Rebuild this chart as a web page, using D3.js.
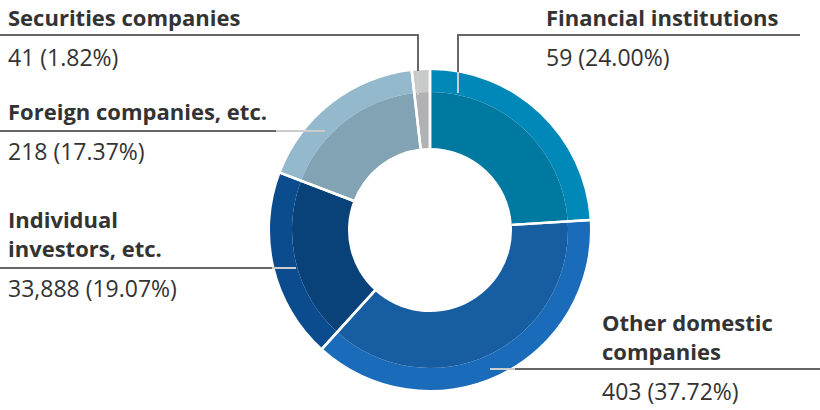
<!DOCTYPE html><html><head><meta charset="utf-8"><script src="https://cdn.jsdelivr.net/npm/d3@7"></script>
<style>body{margin:0;background:#fff}text{font-family:"Open Sans",sans-serif;fill:#333}</style></head><body><svg width="820" height="410"></svg>
<script>
const categories=["Financial institutions","Other domestic companies","Individual investors, etc.","Foreign companies, etc.","Securities companies"];
const shares=[24.00,37.72,19.07,17.37,1.82];
const counts=["59","403","33,888","218","41"];
const outerColors=["#0089b8","#1a6bb9","#0b4c8e","#94b9cc","#c9c9c9"];
const innerColors=["#0079a1","#175da1","#094179","#81a3b3","#b1b1b1"];
const svg=d3.select("svg");
const cx=430,cy=230;
const pie=d3.pie().sort(null).value(d=>d)(shares);
const g=svg.append("g").attr("transform",`translate(${cx},${cy})`);
const outerArc=d3.arc().innerRadius(138).outerRadius(160);
const innerArc=d3.arc().innerRadius(82).outerRadius(138);
g.selectAll(".o").data(pie).join("path").attr("d",outerArc).attr("fill",(d,i)=>outerColors[i]);
g.selectAll(".i").data(pie).join("path").attr("d",innerArc).attr("fill",(d,i)=>innerColors[i]);
g.selectAll(".s").data(pie).join("path").attr("d",d3.arc().innerRadius(82).outerRadius(160).startAngle(d=>d.startAngle).endAngle(d=>d.startAngle)).attr("stroke","#fff").attr("stroke-width",2.5).attr("fill","none");
g.selectAll(".b").data(pie).join("line").attr("x1",d=>82*Math.sin(d.startAngle)).attr("y1",d=>-82*Math.cos(d.startAngle)).attr("x2",d=>161*Math.sin(d.startAngle)).attr("y2",d=>-161*Math.cos(d.startAngle)).attr("stroke","#fff").attr("stroke-width",2.5);
// leader lines
const lines=[
 [[0,35],[418,35],[418,95]],
 [[800,35],[458,35],[458,93]],
 [[0,131],[325,131]],
 [[0,268],[296,268]],
 [[820,369],[490,369]]];
lines.forEach(p=>svg.append("path").attr("d",d3.line()(p)).attr("fill","none").attr("stroke","#666").attr("stroke-width",2));
// light overlay over chart part
svg.append("path").attr("d","M418,71V95 M458,72V93 M276,131H325 M272,268H296 M490,369H515").attr("stroke","#ccc").attr("stroke-width",2).attr("fill","none");
const labels=[
 {x:602,lines:["Other domestic","companies"],y:331,i:1},
 {x:546,lines:["Financial institutions"],y:26,i:0},
 {x:8,lines:["Individual","investors, etc."],y:228,i:2},
 {x:8,lines:["Foreign companies, etc."],y:120,i:3},
 {x:8,lines:["Securities companies"],y:26,i:4}];
labels.forEach(l=>{
 l.lines.forEach((t,k)=>svg.append("text").attr("x",l.x).attr("y",l.y+k*29).attr("font-size",22).attr("font-weight","bold").text(t));
 svg.append("text").attr("x",l.x).attr("y",l.y+(l.lines.length-1)*29+40).attr("font-size",23).attr("fill","#444").text(`${counts[l.i]} (${shares[l.i].toFixed(2)}%)`);
});
</script></body></html>
